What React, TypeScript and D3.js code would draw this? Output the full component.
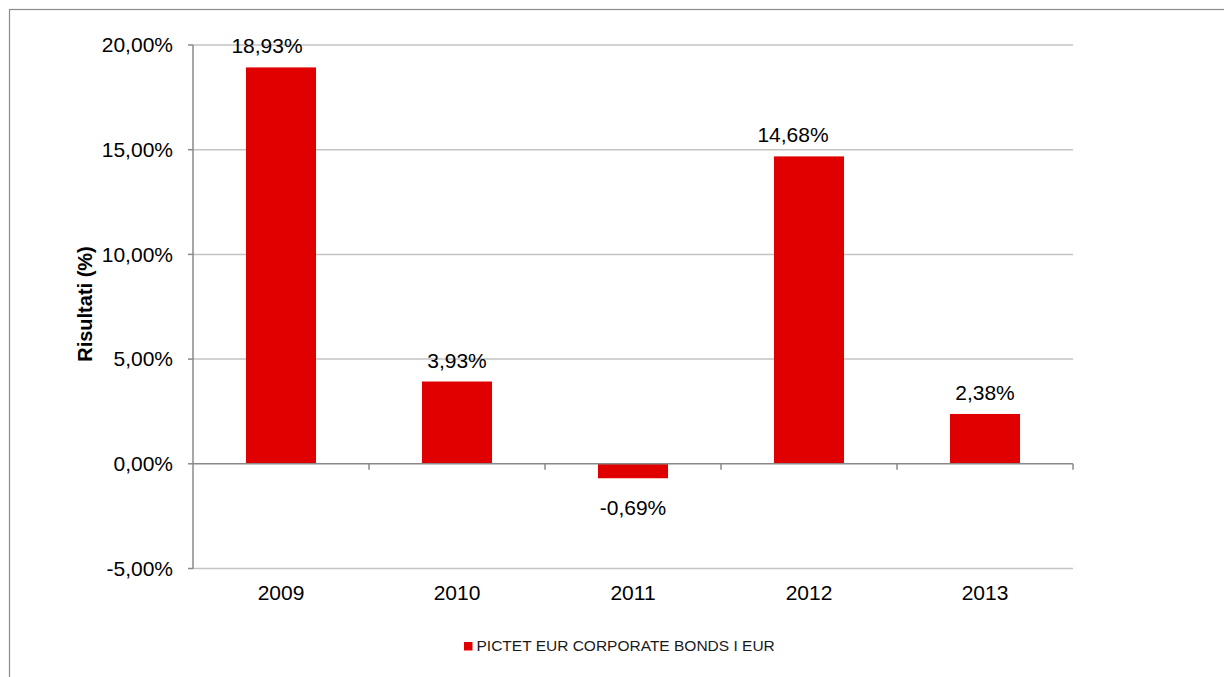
import React from "react";
import * as d3 from "d3";

const categories = ["2009", "2010", "2011", "2012", "2013"];
const values = [18.93, 3.93, -0.69, 14.68, 2.38];
const yTicks = [-5, 0, 5, 10, 15, 20];
const seriesName = "PICTET EUR CORPORATE BONDS I EUR";
const yTitle = "Risultati (%)";

const fmt = (v: number) => v.toFixed(2).replace(".", ",") + "%";

export default function App() {
  const W = 1224, H = 677;
  const left = 193, right = 1073, top = 45, bottom = 568.5;
  const x = d3.scaleBand<string>().domain(categories).range([left, right]).padding(0);
  const y = d3.scaleLinear().domain([-5, 20]).range([bottom, top]);
  const barW = x.bandwidth() * 0.398;
  const red = "#e10000";
  const font = "'Liberation Sans', Arial, sans-serif";
  // Excel placed the two-digit labels slightly left of their bars
  const nudge: Record<string, number> = { "2009": -14, "2012": -16 };

  return (
    <svg width={W} height={H} style={{ position: "absolute", left: 0, top: 0 }} fontFamily={font}>
      <rect x={0} y={0} width={W} height={H} fill="#fff" />
      <rect x={9.5} y={9.5} width={W + 20} height={H + 20} fill="none" stroke="#8a8a8a" strokeWidth={1.2} />
      {yTicks.filter((t) => t !== 0).map((t) => (
        <line key={"g" + t} x1={left} x2={right} y1={y(t)} y2={y(t)} stroke="#c3c3c3" strokeWidth={1.5} />
      ))}
      {categories.map((c, i) => {
        const v = values[i];
        const cx = (x(c) as number) + x.bandwidth() / 2;
        return (
          <rect key={"b" + c} x={cx - barW / 2} width={barW} y={y(Math.max(0, v))} height={Math.abs(y(v) - y(0))} fill={red} />
        );
      })}
      {/* left axis */}
      <line x1={left} x2={left} y1={top} y2={bottom} stroke="#8a8a8a" strokeWidth={1.5} />
      {yTicks.map((t) => (
        <g key={"t" + t}>
          <line x1={left - 5} x2={left} y1={y(t)} y2={y(t)} stroke="#8a8a8a" strokeWidth={1.5} />
          <text x={173} y={y(t)} dy="0.35em" textAnchor="end" fontSize={21} fill="#000">{fmt(t)}</text>
        </g>
      ))}
      {/* x axis at zero */}
      <line x1={left} x2={right} y1={y(0)} y2={y(0)} stroke="#8a8a8a" strokeWidth={1.5} />
      {categories.map((c) => (
        <line key={"xt" + c} x1={(x(c) as number) + x.bandwidth()} x2={(x(c) as number) + x.bandwidth()} y1={y(0)} y2={y(0) + 6} stroke="#8a8a8a" strokeWidth={1.5} />
      ))}
      {categories.map((c) => (
        <text key={"xl" + c} x={(x(c) as number) + x.bandwidth() / 2} y={600} textAnchor="middle" fontSize={21} fill="#000">{c}</text>
      ))}
      {categories.map((c, i) => {
        const v = values[i];
        const cx = (x(c) as number) + x.bandwidth() / 2 + (nudge[c] || 0);
        const ly = v >= 0 ? y(v) - 14 : y(v) + 36.5;
        return (
          <text key={"l" + c} x={cx} y={ly} textAnchor="middle" fontSize={21} fill="#000">{fmt(v)}</text>
        );
      })}
      <text transform={`translate(92,304) rotate(-90)`} textAnchor="middle" fontSize={20} fontWeight="bold" fill="#000">{yTitle}</text>
      <rect x={464} y={642} width={8.5} height={8.5} fill={red} />
      <text x={476.5} y={651} fontSize={15.5} fill="#1a1a1a">{seriesName}</text>
    </svg>
  );
}
